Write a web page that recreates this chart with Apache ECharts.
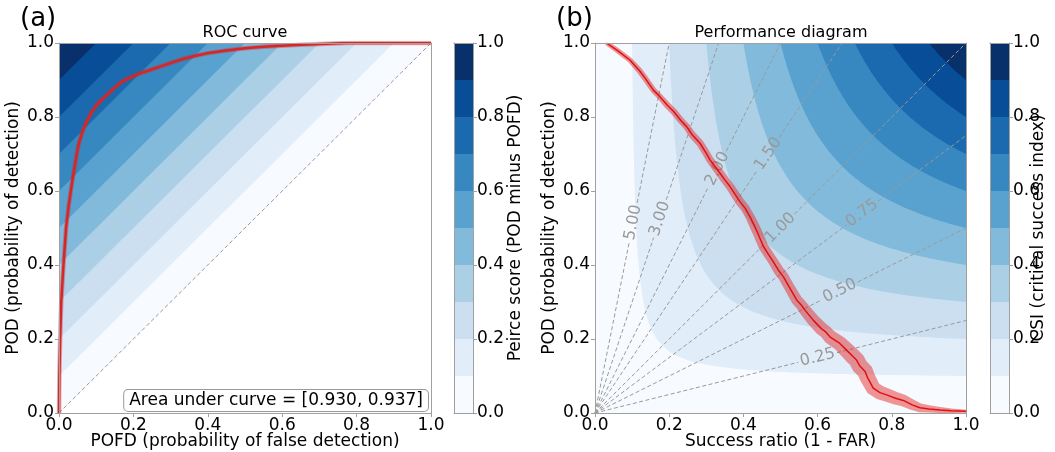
<!DOCTYPE html>
<html>
<head>
<meta charset="utf-8">
<script src="https://cdn.jsdelivr.net/npm/echarts@6/dist/echarts.min.js"></script>
<style>
  html, body { margin: 0; padding: 0; background: #fff; }
  #chart { width: 1055px; height: 452px; }
</style>
</head>
<body>
<div id="chart"></div>
<script>
// contour levels and Blues colours, one per band
var levels = [0, 0.1, 0.2, 0.3, 0.4, 0.5, 0.6, 0.7, 0.8, 0.9, 1.0];
var bandColors = ['#f7fbff', '#e1edf8', '#cbdff1', '#abd0e6', '#82badb',
                  '#59a2cf', '#3787c0', '#1b6aaf', '#084d97', '#08306b'];

// ROC curve (POFD, POD)
var rocPofd = [0, 0.001, 0.003, 0.006, 0.012, 0.019, 0.026, 0.034, 0.043, 0.052, 0.062, 0.074,
               0.087, 0.101, 0.115, 0.128, 0.148, 0.168, 0.192, 0.218, 0.245, 0.272, 0.303,
               0.334, 0.365, 0.397, 0.45, 0.5, 0.55, 0.585, 0.65, 0.72, 0.773, 0.85, 1.0];
var rocPod = [0, 0.1, 0.2, 0.3, 0.4, 0.5, 0.56, 0.616, 0.672, 0.724, 0.757, 0.787,
              0.812, 0.832, 0.847, 0.859, 0.878, 0.895, 0.907, 0.918, 0.927, 0.936, 0.947,
              0.957, 0.965, 0.972, 0.98, 0.986, 0.99, 0.992, 0.995, 0.998, 1.0, 1.0, 1.0];
var diagX = [0, 1];
var diagY = [0, 1];

// performance diagram curve (success ratio, POD) and half-width of its confidence band
var perfSr = [0.031, 0.06, 0.094, 0.12, 0.135, 0.158, 0.175, 0.195, 0.212, 0.232, 0.247, 0.262,
              0.283, 0.298, 0.31, 0.337, 0.35, 0.364, 0.39, 0.405, 0.418, 0.43, 0.437, 0.454,
              0.468, 0.48, 0.495, 0.508, 0.526, 0.544, 0.556, 0.566, 0.588, 0.61, 0.622, 0.633,
              0.66, 0.678, 0.696, 0.705, 0.714, 0.728, 0.735, 0.75, 0.768, 0.786, 0.81, 0.831,
              0.855, 0.876, 0.9, 0.93, 0.96, 1.0];
var perfPod = [1.0, 0.98, 0.954, 0.925, 0.905, 0.872, 0.855, 0.832, 0.815, 0.79, 0.774, 0.752,
               0.729, 0.705, 0.684, 0.648, 0.63, 0.612, 0.572, 0.553, 0.53, 0.505, 0.49, 0.45,
               0.428, 0.41, 0.385, 0.368, 0.336, 0.305, 0.292, 0.278, 0.251, 0.228, 0.219, 0.206,
               0.188, 0.170, 0.152, 0.143, 0.127, 0.112, 0.095, 0.067, 0.055, 0.049, 0.040, 0.034,
               0.022, 0.014, 0.011, 0.008, 0.006, 0.005];
var perfCi = [0.006, 0.007, 0.007, 0.008, 0.008, 0.008, 0.008, 0.009, 0.009, 0.009, 0.009, 0.010,
              0.010, 0.010, 0.010, 0.011, 0.011, 0.011, 0.012, 0.012, 0.012, 0.013, 0.013, 0.013,
              0.013, 0.013, 0.014, 0.014, 0.014, 0.015, 0.015, 0.016, 0.017, 0.018, 0.018, 0.019,
              0.020, 0.021, 0.022, 0.022, 0.022, 0.022, 0.021, 0.020, 0.019, 0.018, 0.017, 0.016,
              0.014, 0.012, 0.010, 0.008, 0.006, 0.004];

// frequency bias lines and where their labels sit (success ratio)
var biasValues = [0.25, 0.5, 0.75, 1, 1.5, 2, 3, 5];
var biasLabels = ['0.25', '0.50', '0.75', '1.00', '1.50', '2.00', '3.00', '5.00'];
var biasLabelSr = [0.60, 0.66, 0.72, 0.50, 0.467, 0.33, 0.175, 0.103];

var FONT = 'DejaVu Sans';
var EDGE = '#a0a0a0';

function fmt(v) { return v.toFixed(1); }

function xMain(gi, name) {
  return {
    gridIndex: gi, type: 'value', min: 0, max: 1, interval: 0.2, position: 'bottom',
    name: name, nameLocation: 'middle', nameGap: 20, nameMoveOverlap: false,
    nameTextStyle: { fontSize: 17, color: '#000', fontFamily: FONT },
    axisLine: { show: true, onZero: false, lineStyle: { color: EDGE } },
    axisTick: { show: true, length: 4, lineStyle: { color: EDGE } },
    axisLabel: { fontSize: 17, color: '#000', fontFamily: FONT, margin: 4, formatter: fmt,
                 showMinLabel: true, showMaxLabel: true },
    splitLine: { show: false }, z: 10
  };
}
function yMain(gi, name) {
  return {
    gridIndex: gi, type: 'value', min: 0, max: 1, interval: 0.2, position: 'left',
    name: name, nameLocation: 'middle', nameGap: 37, nameRotate: 90, nameMoveOverlap: false,
    nameTextStyle: { fontSize: 17, color: '#000', fontFamily: FONT },
    axisLine: { show: true, onZero: false, lineStyle: { color: EDGE } },
    axisTick: { show: true, length: 4, lineStyle: { color: EDGE } },
    axisLabel: { fontSize: 17, color: '#000', fontFamily: FONT, margin: 5, formatter: fmt,
                 showMinLabel: true, showMaxLabel: true },
    splitLine: { show: false }, z: 10
  };
}
function yBar(gi, name, gap) {
  var a = yMain(gi, name);
  a.position = 'right';
  a.nameGap = gap;
  a.axisLabel.margin = 4;
  return a;
}
function edge(gi, pos) {
  return {
    gridIndex: gi, type: 'value', min: 0, max: 1, position: pos,
    axisLine: { show: true, onZero: false, lineStyle: { color: EDGE } },
    axisTick: { show: false }, axisLabel: { show: false }, splitLine: { show: false }, z: 10
  };
}

function zip(a, b) { return a.map(function(v, i) { return [v, b[i]]; }); }

// region where CSI >= c, bounded by the CSI = c isoline
function csiRegion(c, api) {
  if (c === 0) return [[0, 0], [0, 1], [1, 1], [1, 0]].map(api.coord);
  var pts = [];
  var s = 2 * c / (1 + c);
  var n = 40, i, p;
  for (i = 0; i <= n; i++) {
    p = 1 - (1 - s) * i / n;
    pts.push([1 / (1 / c + 1 - 1 / p), p]);
  }
  for (i = 1; i <= n; i++) {
    var sr = s + (1 - s) * i / n;
    pts.push([sr, 1 / (1 / c + 1 - 1 / sr)]);
  }
  pts.push([1, 1]);
  return pts.map(api.coord);
}

function colorbarSeries(xi) {
  return {
    type: 'custom', xAxisIndex: xi, yAxisIndex: xi, silent: true,
    data: levels.slice(0, 10).map(function(l) { return [0.5, l]; }),
    renderItem: function(params, api) {
      var i = params.dataIndex;
      var a = api.coord([0, levels[i + 1]]);
      var b = api.coord([1, levels[i]]);
      return { type: 'rect', shape: { x: a[0], y: a[1], width: b[0] - a[0], height: b[1] - a[1] },
               style: { fill: bandColors[i] } };
    }
  };
}

var chart = echarts.init(document.getElementById('chart'), null, { renderer: 'canvas' });
chart.setOption({
  animation: false,
  backgroundColor: '#fff',
  textStyle: { fontFamily: FONT },
  grid: [
    { left: 59, top: 43, width: 372, height: 370, containLabel: false, outerBoundsMode: 'none' },
    { left: 454, top: 43, width: 19, height: 370, containLabel: false, outerBoundsMode: 'none' },
    { left: 595, top: 43, width: 371, height: 370, containLabel: false, outerBoundsMode: 'none' },
    { left: 990, top: 43, width: 19, height: 370, containLabel: false, outerBoundsMode: 'none' }
  ],
  xAxis: [
    xMain(0, 'POFD (probability of false detection)'), edge(0, 'top'),
    edge(1, 'bottom'), edge(1, 'top'),
    xMain(2, 'Success ratio (1 - FAR)'), edge(2, 'top'),
    edge(3, 'bottom'), edge(3, 'top')
  ],
  yAxis: [
    yMain(0, 'POD (probability of detection)'), edge(0, 'right'),
    edge(1, 'left'), yBar(1, 'Peirce score (POD minus POFD)', 34),
    yMain(2, 'POD (probability of detection)'), edge(2, 'right'),
    edge(3, 'left'), yBar(3, 'CSI (critical success index)', 21)
  ],
  graphic: [
    { type: 'text', x: 20, y: 19, style: { text: '(a)', fontSize: 26, fontFamily: FONT, fill: '#000', align: 'left', verticalAlign: 'middle' } },
    { type: 'text', x: 245, y: 33, style: { text: 'ROC curve', fontSize: 16, fontFamily: FONT, fill: '#000', align: 'center', verticalAlign: 'middle' } },
    { type: 'text', x: 556, y: 19, style: { text: '(b)', fontSize: 26, fontFamily: FONT, fill: '#000', align: 'left', verticalAlign: 'middle' } },
    { type: 'text', x: 781, y: 33, style: { text: 'Performance diagram', fontSize: 16, fontFamily: FONT, fill: '#000', align: 'center', verticalAlign: 'middle' } },
    { type: 'text', x: 428, y: 411, z: 100,
      style: { text: 'Area under curve = [0.930, 0.937]', fontSize: 17, fontFamily: FONT, fill: '#000',
               align: 'right', verticalAlign: 'bottom', padding: [2, 5, 2, 5],
               backgroundColor: '#fff', borderColor: '#999', borderWidth: 1, borderRadius: 4 } }
  ],
  series: [
    // Peirce score bands
    {
      type: 'custom', xAxisIndex: 0, yAxisIndex: 0, silent: true, z: 1,
      data: levels.slice(0, 10).map(function(l) { return [l, l]; }),
      renderItem: function(params, api) {
        var k = levels[params.dataIndex];
        var pts = [[0, k], [0, 1], [1 - k, 1]].map(api.coord);
        return { type: 'polygon', shape: { points: pts }, style: { fill: bandColors[params.dataIndex] } };
      }
    },
    {
      type: 'line', xAxisIndex: 0, yAxisIndex: 0, data: zip(diagX, diagY), showSymbol: false, silent: true, z: 3,
      lineStyle: { color: '#999', width: 1, type: [4, 2.5] }
    },
    {
      type: 'line', xAxisIndex: 0, yAxisIndex: 0, data: zip(rocPofd, rocPod), showSymbol: false, silent: true, z: 4,
      lineStyle: { color: 'rgba(214,39,40,0.4)', width: 4.5 }
    },
    {
      type: 'line', xAxisIndex: 0, yAxisIndex: 0, data: zip(rocPofd, rocPod), showSymbol: false, silent: true, z: 5,
      lineStyle: { color: '#d62728', width: 2.5 }
    },
    colorbarSeries(2),
    // CSI bands
    {
      type: 'custom', xAxisIndex: 4, yAxisIndex: 4, silent: true, z: 1,
      data: levels.slice(0, 10).map(function(l) { return [l, l]; }),
      renderItem: function(params, api) {
        return { type: 'polygon', shape: { points: csiRegion(levels[params.dataIndex], api) },
                 style: { fill: bandColors[params.dataIndex] } };
      }
    },
    // frequency bias lines
    {
      type: 'custom', xAxisIndex: 4, yAxisIndex: 4, silent: true, z: 3,
      data: biasValues.map(function(b, i) { return [biasLabelSr[i], Math.min(1, b * biasLabelSr[i])]; }),
      renderItem: function(params, api) {
        var i = params.dataIndex, b = biasValues[i], s = biasLabelSr[i];
        var end = b >= 1 ? [1 / b, 1] : [1, b];
        var p0 = api.coord([0, 0]), p1 = api.coord(end), pl = api.coord([s, b * s]);
        var dx = p1[0] - p0[0], dy = p1[1] - p0[1], len = Math.sqrt(dx * dx + dy * dy);
        var ux = dx / len, uy = dy / len, g = 20;
        var ls = { stroke: '#999', lineWidth: 1, lineDash: [4, 2.5] };
        return { type: 'group', children: [
          { type: 'line', shape: { x1: p0[0], y1: p0[1], x2: pl[0] - ux * g, y2: pl[1] - uy * g }, style: ls },
          { type: 'line', shape: { x1: pl[0] + ux * g, y1: pl[1] + uy * g, x2: p1[0], y2: p1[1] }, style: ls },
          { type: 'text', x: pl[0], y: pl[1], rotation: Math.atan2(-dy, dx),
            style: { text: biasLabels[i], fill: '#999', fontSize: 16, fontFamily: FONT, align: 'center', verticalAlign: 'middle' } }
        ] };
      }
    },
    // confidence band round the performance curve
    {
      type: 'custom', xAxisIndex: 4, yAxisIndex: 4, silent: true, z: 4, clip: true,
      data: [[0.5, 0.5]],
      renderItem: function(params, api) {
        var px = perfSr.map(function(s, j) { return api.coord([s, perfPod[j]]); });
        var unit = api.size([1, 1]);
        var left = [], right = [];
        for (var j = 0; j < px.length; j++) {
          var a = px[Math.max(j - 1, 0)], c = px[Math.min(j + 1, px.length - 1)];
          var tx = c[0] - a[0], ty = c[1] - a[1], tl = Math.sqrt(tx * tx + ty * ty);
          var nx = -ty / tl, ny = tx / tl, h = perfCi[j] * unit[0];
          left.push([px[j][0] + nx * h, px[j][1] + ny * h]);
          right.push([px[j][0] - nx * h, px[j][1] - ny * h]);
        }
        return { type: 'polygon', shape: { points: left.concat(right.reverse()) },
                 style: { fill: 'rgba(226,45,45,0.5)' } };
      }
    },
    {
      type: 'line', xAxisIndex: 4, yAxisIndex: 4, data: zip(perfSr, perfPod), showSymbol: false, silent: true, z: 5,
      lineStyle: { color: '#e01010', width: 1.5 }
    },
    colorbarSeries(6)
  ]
});
</script>
</body>
</html>
